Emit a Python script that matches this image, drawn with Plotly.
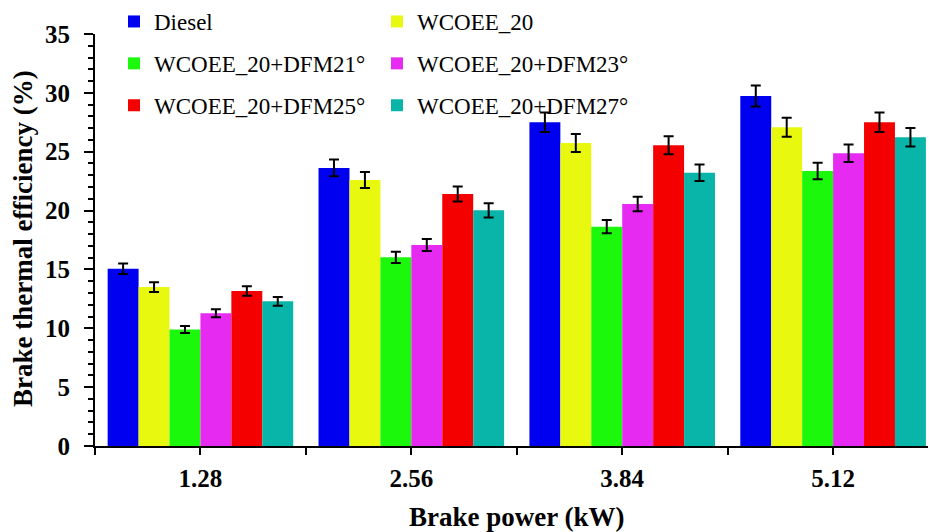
import plotly.graph_objects as go

categories = ["1.28", "2.56", "3.84", "5.12"]
series_names = ["Diesel", "WCOEE_20", "WCOEE_20+DFM21°", "WCOEE_20+DFM23°",
                "WCOEE_20+DFM25°", "WCOEE_20+DFM27°"]
diesel = [15.06, 23.62, 27.50, 29.74]
wcoee20 = [13.50, 22.60, 25.74, 27.08]
dfm21 = [9.90, 16.03, 18.63, 23.36]
dfm23 = [11.27, 17.08, 20.56, 24.87]
dfm25 = [13.17, 21.41, 25.55, 27.50]
dfm27 = [12.29, 20.02, 23.22, 26.23]
err_diesel = [0.45, 0.71, 0.83, 0.89]
err_wcoee20 = [0.41, 0.68, 0.77, 0.81]
err_dfm21 = [0.30, 0.48, 0.56, 0.70]
err_dfm23 = [0.34, 0.51, 0.62, 0.75]
err_dfm25 = [0.40, 0.64, 0.77, 0.83]
err_dfm27 = [0.37, 0.60, 0.70, 0.79]
x_title = "Brake power (kW)"
y_title = "Brake thermal efficiency (%)"

values = [diesel, wcoee20, dfm21, dfm23, dfm25, dfm27]
errors = [err_diesel, err_wcoee20, err_dfm21, err_dfm23, err_dfm25, err_dfm27]
colors = ["#0000F0", "#E8F80F", "#1CF80C", "#E62AF2", "#F40000", "#08B5A8"]
legend_ids = ["legend", "legend2", "legend", "legend2", "legend", "legend2"]

xpos = list(range(len(categories)))

fig = go.Figure()
for i, name in enumerate(series_names):
    fig.add_trace(go.Bar(
        x=xpos, y=values[i], name=name,
        marker=dict(color=colors[i], line=dict(width=0)),
        error_y=dict(type="data", array=errors[i], visible=True,
                     color="black", thickness=2, width=5),
        legend=legend_ids[i], legendgroup=name,
    ))

serif = "Liberation Serif"
legend_serif = "Times New Roman"

tickvals = []
ticktext = []
for j, c in enumerate(categories):
    tickvals += [j - 0.5, j]
    ticktext += ["", c]
tickvals.append(len(categories) - 0.5)
ticktext.append("")

fig.update_layout(
    width=929, height=532,
    margin=dict(l=95, r=1, t=34, b=86, autoexpand=False),
    plot_bgcolor="white", paper_bgcolor="white",
    barmode="group", bargap=0.12, bargroupgap=0,
    font=dict(family=serif, color="black"),
    legend=dict(x=114 / 929, xref="container", xanchor="left",
                y=1 - 0 / 532, yref="container", yanchor="top",
                font=dict(family=legend_serif, size=23, color="black", weight="normal"),
                bgcolor="rgba(0,0,0,0)", tracegroupgap=9),
    legend2=dict(x=377 / 929, xref="container", xanchor="left",
                 y=1 - 0 / 532, yref="container", yanchor="top",
                 font=dict(family=legend_serif, size=23, color="black", weight="normal"),
                 bgcolor="rgba(0,0,0,0)", tracegroupgap=9),
    annotations=[
        dict(text=x_title, xref="paper", yref="paper", x=(517 - 95) / 833,
             y=-(517 - 446) / 412, xanchor="center", yanchor="middle",
             showarrow=False,
             font=dict(family=serif, size=27, color="black", weight="bold")),
        dict(text=y_title, xref="paper", yref="paper", x=(23 - 95) / 833,
             y=(446 - 239) / 412, xanchor="center", yanchor="middle",
             textangle=-90, showarrow=False,
             font=dict(family=serif, size=27, color="black", weight="bold")),
    ],
)

fig.update_xaxes(
    range=[-0.5, 3.45], tickmode="array", tickvals=tickvals, ticktext=ticktext,
    showline=True, linecolor="black", linewidth=2,
    ticks="outside", ticklen=7, tickwidth=2, tickcolor="black",
    ticklabelstandoff=2,
    tickfont=dict(family=serif, size=25, color="black", weight="bold"),
    showgrid=False, zeroline=False,
)
fig.update_yaxes(
    range=[0, 35], dtick=5, tick0=0,
    showline=True, linecolor="black", linewidth=2,
    ticks="outside", ticklen=9, tickwidth=2, tickcolor="black",
    ticklabelstandoff=9,
    minor=dict(dtick=1, ticks="outside", ticklen=5, tickwidth=1.5, tickcolor="black"),
    tickfont=dict(family=serif, size=25, color="black", weight="bold"),
    showgrid=False, zeroline=False,
)

fig.write_html("out.html")
